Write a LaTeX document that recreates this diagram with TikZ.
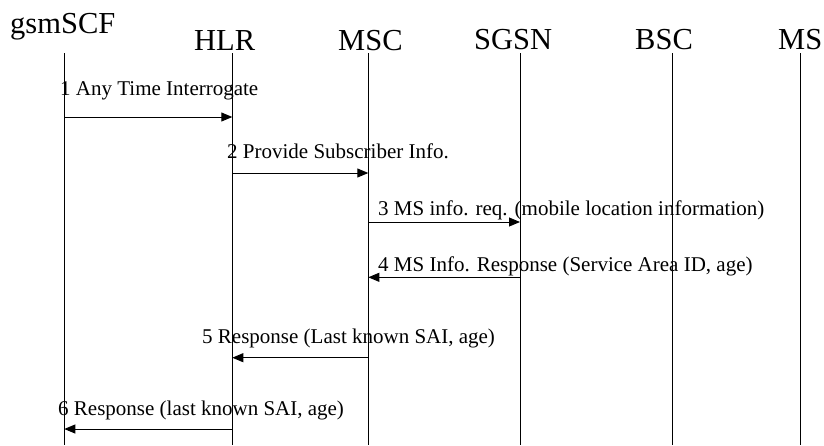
\documentclass[tikz,border=0pt]{standalone}
\usepackage{fontspec}
\setmainfont{Liberation Serif}
\usetikzlibrary{arrows.meta}
\begin{document}
\begin{tikzpicture}[x=1pt,y=-1pt,
  entity/.style={anchor=base west,inner sep=0pt,font=\fontsize{30.5}{32}\selectfont},
  msgtext/.style={anchor=base west,inner sep=0pt,font=\fontsize{21}{23}\selectfont},
  lifeline/.style={line width=0.9pt},
  msg/.style={line width=0.9pt,-{Triangle[length=11pt,width=9pt]}}]
\useasboundingbox (0,0) rectangle (824,445);
% entities
\node[entity] (scf) at (10,33) {gsmSCF};
\node[entity] (hlr) at (194,50) {HLR};
\node[entity] (msc) at (338,50) {MSC};
\node[entity] (sgsn) at (474,49) {SGSN};
\node[entity] (bsc) at (635,49) {BSC};
\node[entity] (ms) at (778,49) {MS};
% lifeline tops and bottoms
\foreach \n/\x in {scf/64.3,hlr/232.3,msc/368.3,sgsn/520,bsc/672,ms/800}{
  \coordinate (\n t) at (\x,53);
  \coordinate (\n b) at (\x,445);
  \draw[lifeline] (\n t) -- (\n b);
}
% message levels
\coordinate (m1) at (0,117);
\coordinate (m2) at (0,173);
\coordinate (m3) at (0,222);
\coordinate (m4) at (0,277.3);
\coordinate (m5) at (0,357.7);
\coordinate (m6) at (0,429);
% messages
\draw[msg] (scft |- m1) -- (hlrt |- m1);
\node[msgtext] (t1) at (60,95) {1 Any Time Interrogate};
\draw[msg] (hlrt |- m2) -- (msct |- m2);
\node[msgtext] (t2) at (227,158) {2 Provide Subscriber Info.};
\draw[msg] (msct |- m3) -- (sgsnt |- m3);
\node[msgtext] (t3) at (378,215) {3 MS info. req. (mobile location information)};
\draw[msg] (sgsnt |- m4) -- (msct |- m4);
\node[msgtext] (t4) at (378,271.7) {4 MS Info. Response (Service Area ID, age)};
\draw[msg] (msct |- m5) -- (hlrt |- m5);
\node[msgtext] (t5) at (202,343) {5 Response (Last known SAI, age)};
\draw[msg] (hlrt |- m6) -- (scft |- m6);
\node[msgtext] (t6) at (58,415) {6 Response (last known SAI, age)};
\end{tikzpicture}
\end{document}
